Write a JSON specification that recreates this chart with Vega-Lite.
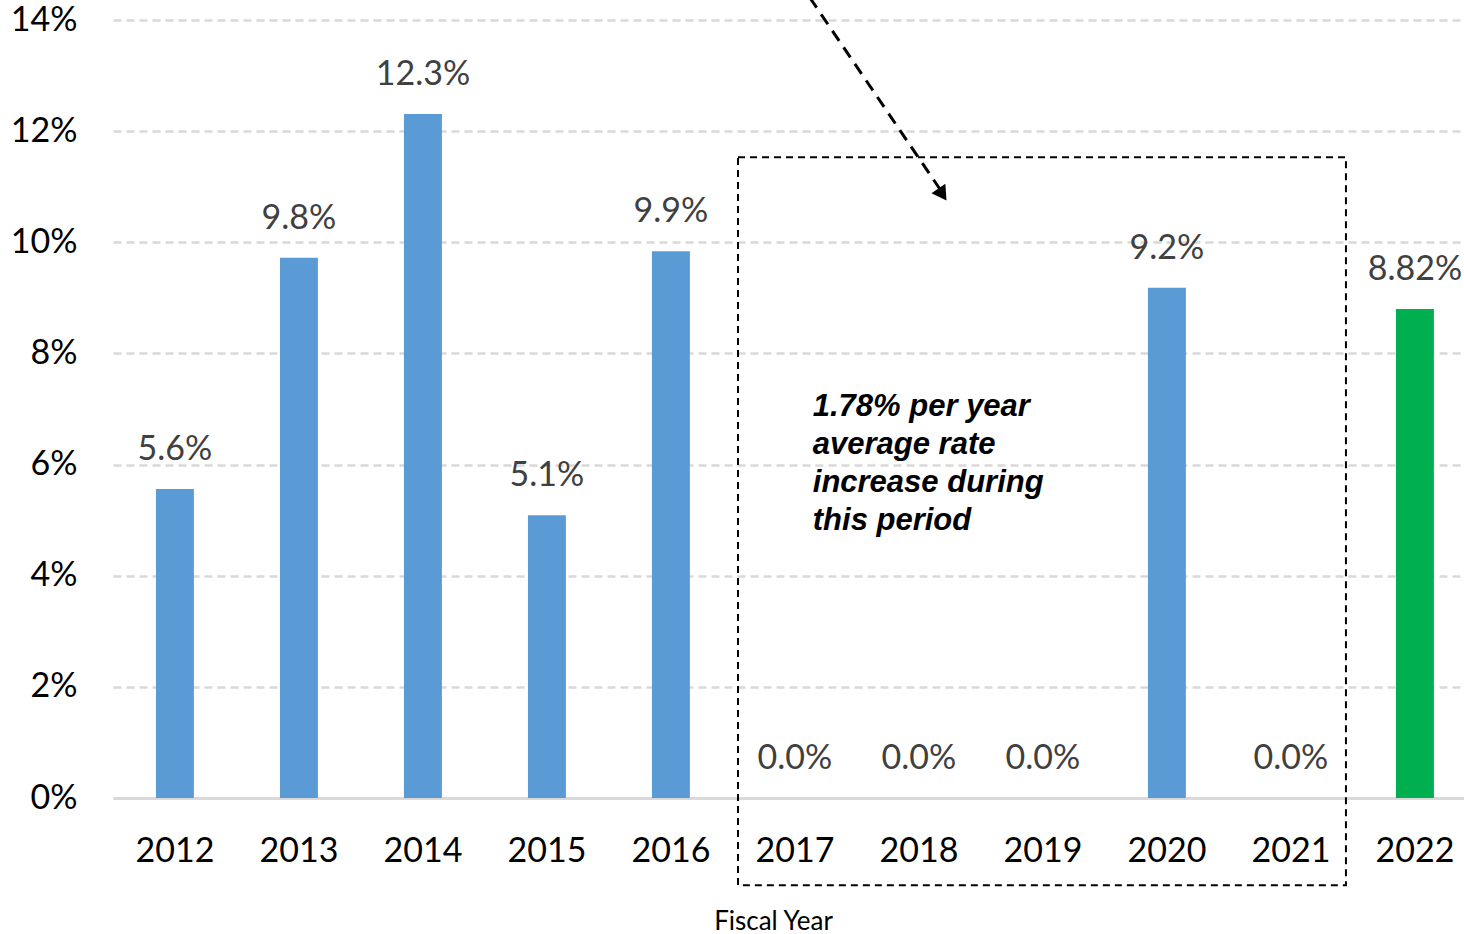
{
  "$schema": "https://vega.github.io/schema/vega-lite/v6.json",
  "width": 1351,
  "height": 778,
  "autosize": {"type": "none"},
  "padding": {"left": 113, "top": 20, "right": 0, "bottom": 136},
  "background": "white",
  "config": {
    "view": {"stroke": null},
    "font": "Lato",
    "axisX": {
      "domainColor": "#D9D9D9", "domainWidth": 3, "ticks": false, "grid": false,
      "labelFont": "Lato", "labelFontSize": 34, "labelColor": "#000000", "labelAngle": 0,
      "labelBaseline": "alphabetic", "labelPadding": 63,
      "titleFont": "Lato", "titleFontSize": 26, "titleFontWeight": "normal", "titleColor": "#000000",
      "titleX": 660, "titleY": 131, "titleBaseline": "alphabetic"
    },
    "axisY": {
      "domain": false, "ticks": false, "grid": true, "gridColor": "#D9D9D9", "gridWidth": 2.5, "gridDash": [8, 5],
      "labelFont": "Lato", "labelFontSize": 34, "labelColor": "#000000", "labelPadding": 36
    }
  },
  "datasets": {
    "rates": [
      {"year": "2012", "value": 5.56, "label": "5.6%"},
      {"year": "2013", "value": 9.72, "label": "9.8%"},
      {"year": "2014", "value": 12.31, "label": "12.3%"},
      {"year": "2015", "value": 5.09, "label": "5.1%"},
      {"year": "2016", "value": 9.84, "label": "9.9%"},
      {"year": "2017", "value": 0, "label": "0.0%"},
      {"year": "2018", "value": 0, "label": "0.0%"},
      {"year": "2019", "value": 0, "label": "0.0%"},
      {"year": "2020", "value": 9.18, "label": "9.2%"},
      {"year": "2021", "value": 0, "label": "0.0%"},
      {"year": "2022", "value": 8.8, "label": "8.82%"}
    ]
  },
  "layer": [
    {
      "data": {"name": "rates"},
      "mark": {"type": "bar"},
      "encoding": {
        "x": {"field": "year", "type": "ordinal", "title": "Fiscal Year",
          "scale": {"paddingInner": 0.694, "paddingOuter": 0.2946, "align": 0.588}},
        "y": {"field": "value", "type": "quantitative", "title": null,
          "scale": {"domain": [0, 14], "nice": false},
          "axis": {"values": [0, 2, 4, 6, 8, 10, 12, 14], "labelExpr": "datum.value + '%'"}},
        "color": {"condition": {"test": "datum.year === '2022'", "value": "#00B050"}, "value": "#5B9BD5"}
      }
    },
    {
      "data": {"name": "rates"},
      "mark": {"type": "text", "font": "Lato", "fontSize": 34, "color": "#404040", "baseline": "alphabetic", "dy": -29},
      "encoding": {
        "x": {"field": "year", "type": "ordinal", "title": "Fiscal Year"},
        "y": {"field": "value", "type": "quantitative"},
        "text": {"field": "label"}
      }
    },
    {
      "data": {"values": [{"start": "2017", "end": "2021", "top": 11.53, "bottom": -1.57}]},
      "mark": {"type": "rect", "fill": null, "fillOpacity": 0, "stroke": "#000000", "strokeWidth": 2, "strokeDash": [7, 5]},
      "encoding": {
        "x": {"field": "start", "type": "ordinal", "title": "Fiscal Year", "bandPosition": -1.0},
        "x2": {"field": "end", "bandPosition": 1.95},
        "y": {"field": "top", "type": "quantitative"},
        "y2": {"field": "bottom"}
      }
    },
    {
      "data": {"values": [{"start": "2017", "end": "2018", "top": 14.4, "bottom": 10.95}]},
      "mark": {"type": "rule", "stroke": "#000000", "strokeWidth": 3, "strokeDash": [12, 8]},
      "encoding": {
        "x": {"field": "start", "type": "ordinal", "title": "Fiscal Year", "bandPosition": 0.895},
        "x2": {"field": "end", "bandPosition": 1.06},
        "y": {"field": "top", "type": "quantitative"},
        "y2": {"field": "bottom"}
      }
    },
    {
      "data": {"values": [{"pos": "2018", "v": 10.86}]},
      "mark": {"type": "point", "shape": "triangle-up", "filled": true, "color": "#000000", "opacity": 1, "size": 280, "angle": 146},
      "encoding": {
        "x": {"field": "pos", "type": "ordinal", "title": "Fiscal Year", "bandPosition": 1.12},
        "y": {"field": "v", "type": "quantitative"}
      }
    },
    {
      "data": {"values": [{"pos": "2017", "v": 6.88, "note": "1.78% per year|average rate|increase during|this period"}]},
      "mark": {"type": "text", "font": "Liberation Sans, Arial, sans-serif", "fontSize": 31, "fontWeight": "bold", "fontStyle": "italic",
        "color": "#000000", "align": "left", "baseline": "alphabetic", "lineBreak": "|", "lineHeight": 38},
      "encoding": {
        "x": {"field": "pos", "type": "ordinal", "title": "Fiscal Year", "bandPosition": 0.97},
        "y": {"field": "v", "type": "quantitative"},
        "text": {"field": "note"}
      }
    }
  ]
}
